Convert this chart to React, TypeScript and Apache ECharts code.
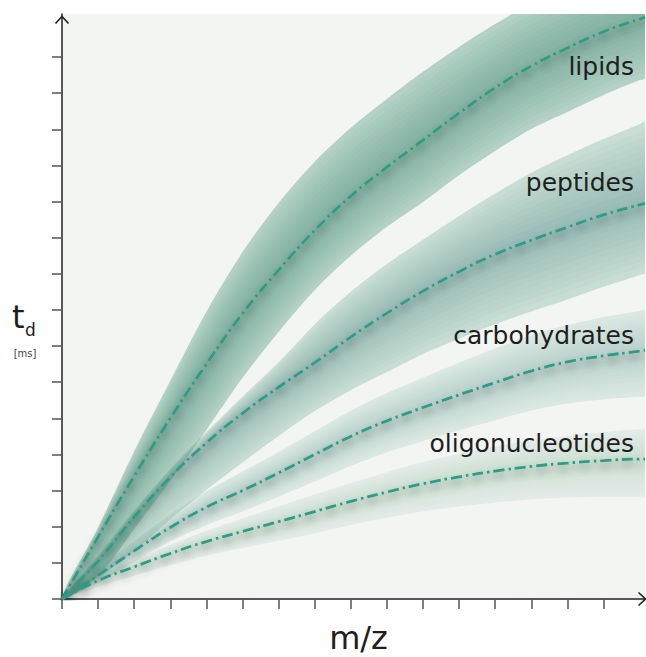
import React, { useEffect, useRef } from "react";
import * as echarts from "echarts";

// m/z positions (in tick units)
const X = [0, 1, 2, 3, 4, 5, 6, 7, 8, 9, 10, 11, 12, 13, 14, 15, 16, 16.15];
const TICKS = [0, 1, 2, 3, 4, 5, 6, 7, 8, 9, 10, 11, 12, 13, 14, 15];

// lipids
const lipidsMid = [0, 1.72, 3.4, 5.0, 6.5, 7.9, 9.1, 10.2, 11.15, 11.95, 12.7, 13.45, 14.15, 14.75, 15.25, 15.7, 16.05, 16.1];
const lipidsUp = [0, 1.98, 4.09, 6.04, 7.95, 9.6, 10.96, 12.1, 13.04, 13.84, 14.59, 15.28, 15.91, 16.5, 17.02, 17.49, 17.88, 17.94];
const lipidsLow = [0, 0.64, 1.94, 3.27, 4.68, 6.12, 7.39, 8.55, 9.5, 10.3, 10.99, 11.73, 12.4, 13.01, 13.48, 13.95, 14.36, 14.42];

// peptides
const peptidesMid = [0, 1.05, 2.27, 3.37, 4.32, 5.14, 5.86, 6.54, 7.25, 7.91, 8.52, 9.06, 9.54, 9.93, 10.29, 10.63, 10.91, 10.95];
const peptidesUp = [0, 1.2, 2.45, 3.6, 4.62, 5.6, 6.55, 7.6, 8.5, 9.27, 9.94, 10.6, 11.22, 11.8, 12.28, 12.73, 13.14, 13.2];
const peptidesLow = [0, 0.58, 1.33, 2.21, 3.02, 3.78, 4.51, 5.2, 5.78, 6.28, 6.78, 7.2, 7.61, 7.96, 8.29, 8.64, 8.97, 9.02];

// carbohydrates
const carbsMid = [0, 0.66, 1.33, 1.98, 2.54, 3.0, 3.49, 4.0, 4.5, 4.93, 5.3, 5.65, 5.99, 6.31, 6.56, 6.73, 6.86, 6.89];
const carbsUp = [0, 0.85, 1.61, 2.34, 2.98, 3.53, 4.07, 4.64, 5.21, 5.7, 6.13, 6.54, 6.93, 7.29, 7.58, 7.8, 7.97, 8.0];
const carbsLow = [0, 0.44, 1.03, 1.59, 2.04, 2.42, 2.83, 3.25, 3.68, 4.06, 4.37, 4.67, 4.95, 5.22, 5.41, 5.53, 5.6, 5.62];

// oligonucleotides
const oligosMid = [0, 0.51, 0.89, 1.26, 1.59, 1.87, 2.14, 2.42, 2.7, 2.96, 3.19, 3.38, 3.54, 3.67, 3.76, 3.83, 3.87, 3.87];
const oligosUp = [0, 0.65, 1.08, 1.51, 1.89, 2.23, 2.56, 2.89, 3.21, 3.51, 3.79, 4.02, 4.22, 4.39, 4.51, 4.62, 4.7, 4.7];
const oligosLow = [0, 0.34, 0.64, 0.94, 1.2, 1.41, 1.61, 1.82, 2.05, 2.25, 2.43, 2.56, 2.67, 2.76, 2.81, 2.83, 2.83, 2.82];

const LABELS = ["lipids", "peptides", "carbohydrates", "oligonucleotides"];

const BANDS = [
  { name: "lipids", mid: lipidsMid, up: lipidsUp, low: lipidsLow, outer: 0.35, inner: 0.042 },
  { name: "peptides", mid: peptidesMid, up: peptidesUp, low: peptidesLow, outer: 0.23, inner: 0.031 },
  { name: "carbohydrates", mid: carbsMid, up: carbsUp, low: carbsLow, outer: 0.13, inner: 0.015 },
  { name: "oligonucleotides", mid: oligosMid, up: oligosUp, low: oligosLow, outer: 0.085, inner: 0.011 },
];

const LAYERS = [1, 0.9, 0.82, 0.74, 0.66, 0.58, 0.5, 0.42, 0.34, 0.26, 0.18, 0.1];

export default function App() {
  const ref = useRef<HTMLDivElement>(null);
  useEffect(() => {
    if (!ref.current) return;
    const chart = echarts.init(ref.current, null, { renderer: "svg" });
    const series: any[] = [];
    BANDS.forEach((b) => {
      LAYERS.forEach((f, li) => {
        const lower = b.mid.map((m, i) => m - f * (m - b.low[i]));
        const upper = b.mid.map((m, i) => m + f * (b.up[i] - m));
        const a = li === 0 ? b.outer : b.inner;
        series.push({
          type: "custom",
          coordinateSystem: "cartesian2d",
          clip: true,
          silent: true,
          z: 1,
          data: [[0, 0]],
          renderItem: (params: any, api: any) => {
            const pts: number[][] = [];
            for (let i = 0; i < X.length; i++) pts.push(api.coord([X[i], upper[i]]));
            for (let i = X.length - 1; i >= 1; i--) pts.push(api.coord([X[i], lower[i]]));
            return {
              type: "polygon",
              shape: { points: pts, smooth: 0.3 },
              style: { fill: `rgba(59,143,114,${a})`, stroke: null },
            };
          },
        });
      });
    });
    BANDS.forEach((b) => {
      series.push({
        type: "line",
        name: b.name,
        data: X.map((x, i) => [x, b.mid[i]]),
        symbol: "none",
        smooth: true,
        silent: true,
        lineStyle: {
          color: "#2f9c86",
          width: 2.8,
          type: [11, 4, 2.5, 4],
          shadowColor: "rgba(30,40,40,0.45)",
          shadowBlur: 8,
          shadowOffsetY: 5,
        },
        z: 3,
      });
    });

    const labelY = [66.6, 182.6, 335.6, 443.6];
    const textStyleBase = { fontFamily: "DejaVu Sans", fill: "#1e1e1e" };

    chart.setOption({
      animation: false,
      grid: {
        left: 62,
        right: 1,
        top: 14,
        bottom: 58,
        show: true,
        backgroundColor: "#f3f5f3",
        borderWidth: 0,
      },
      xAxis: {
        type: "value",
        min: 0,
        max: 16.15,
        interval: 1,
        axisLine: { show: true, lineStyle: { color: "#222", width: 1.5 } },
        axisTick: { show: true, length: 10, customValues: TICKS, lineStyle: { color: "#555", width: 1.5 } },
        axisLabel: { show: false },
        splitLine: { show: false },
      },
      yAxis: {
        type: "value",
        min: 0,
        max: 16.19,
        interval: 1,
        axisLine: { show: true, lineStyle: { color: "#222", width: 1.5 } },
        axisTick: { show: true, length: 10, customValues: TICKS, lineStyle: { color: "#555", width: 1.5 } },
        axisLabel: { show: false },
        splitLine: { show: false },
      },
      series,
      graphic: [
        ...LABELS.map((t, i) => ({
          type: "text",
          x: 634,
          y: labelY[i],
          z: 10,
          style: { ...textStyleBase, text: t, fontSize: 25, align: "right", verticalAlign: "middle" },
        })),
        {
          type: "text",
          x: 358.5,
          y: 638,
          style: { ...textStyleBase, text: "m/z", fontSize: 32, lineHeight: 30, align: "center", verticalAlign: "middle" },
        },
        {
          type: "text",
          x: 12,
          y: 317,
          style: { ...textStyleBase, text: "t", fontSize: 32, align: "left", verticalAlign: "middle" },
        },
        {
          type: "text",
          x: 25,
          y: 330,
          style: { ...textStyleBase, text: "d", fontSize: 17, align: "left", verticalAlign: "middle" },
        },
        {
          type: "text",
          x: 25,
          y: 353,
          style: { ...textStyleBase, fill: "#444", text: "[ms]", fontSize: 10, align: "center", verticalAlign: "middle" },
        },
        {
          type: "polyline",
          z: 10,
          shape: { points: [[55.5, 23.5], [62, 16.5], [68.5, 23.5]] },
          style: { stroke: "#222", lineWidth: 1.6, fill: null },
        },
        {
          type: "polyline",
          z: 10,
          shape: { points: [[638.5, 592.5], [645.5, 599], [638.5, 605.5]] },
          style: { stroke: "#222", lineWidth: 1.6, fill: null },
        },
      ],
    });
    return () => chart.dispose();
  }, []);
  return <div ref={ref} style={{ position: "absolute", left: 0, top: 0, width: 646, height: 657 }} />;
}
